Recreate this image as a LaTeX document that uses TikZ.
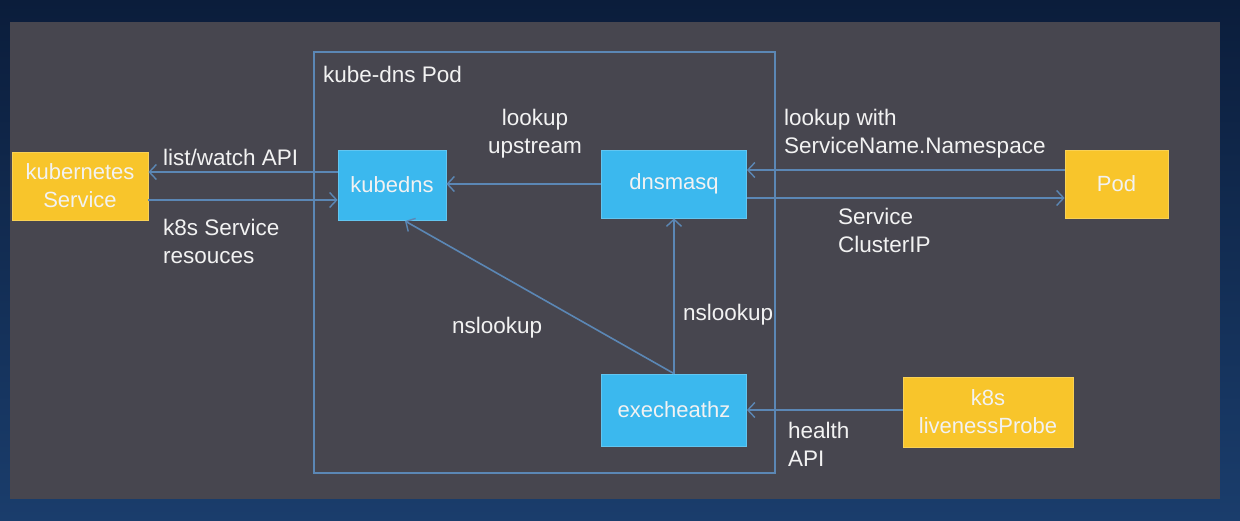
\documentclass[tikz,border=0pt]{standalone}
\usepackage{fontspec}
\setmainfont{Liberation Sans}
\usetikzlibrary{arrows.meta}
\definecolor{panel}{HTML}{47464F}
\definecolor{frameblue}{HTML}{5B87B5}
\definecolor{ybox}{HTML}{F8C52B}
\definecolor{bbox}{HTML}{3BB8EE}
\definecolor{txt}{HTML}{F2F2F2}
\definecolor{navytop}{HTML}{0B1D3B}
\definecolor{navybot}{HTML}{1A3D6C}
\tikzset{
  box/.style={draw=#1!80!white, line width=0.8pt, fill=#1, text=txt, align=center, inner sep=0pt, font=\fontsize{22}{28}\selectfont},
  lbl/.style={text=txt, align=left, inner sep=0pt, font=\fontsize{22.5}{28}\selectfont},
  conn/.style={draw=frameblue, line width=1.6pt, -{Straight Barb[length=7pt,width=15pt,line width=1.4pt]}},
}
\begin{document}
\begin{tikzpicture}[x=1pt,y=-1pt]
\useasboundingbox (0,0) rectangle (1240,520);
\shade[top color=navytop, bottom color=navybot] (0,0) rectangle (1240,520);
\fill[panel] (10,22) rectangle (1220,499);
% pod frame
\draw[frameblue, line width=1.2pt] (314,52) rectangle (775,473);
\node[lbl, anchor=west] (podlbl) at (323,74) {kube-dns Pod};
% boxes
\node[box=ybox, minimum width=136pt, minimum height=68pt] (ks) at (80,186) {kubernetes\\Service};
\node[box=bbox, minimum width=108pt, minimum height=70pt] (kubedns) at (392,185) {kubedns};
\node[box=bbox, minimum width=145pt, minimum height=68pt] (dnsmasq) at (674,184) {dnsmasq};
\node[box=ybox, minimum width=103pt, minimum height=68pt] (pod) at (1116.5,184) {Pod};
\node[box=bbox, minimum width=145pt, minimum height=72pt] (exec) at (674,410) {execheathz};
\node[box=ybox, minimum width=170pt, minimum height=70pt] (probe) at (988,412) {k8s\\livenessProbe};
% connectors
\draw[conn] (kubedns.west |- 0,172) -- (ks.east |- 0,172);
\draw[conn] (ks.east |- 0,200) -- (kubedns.west |- 0,200);
\draw[conn] (dnsmasq.west |- 0,184) -- (kubedns.east |- 0,184);
\draw[conn] (pod.west |- 0,170) -- (dnsmasq.east |- 0,170);
\draw[conn] (dnsmasq.east |- 0,198) -- (pod.west |- 0,198);
\draw[conn] (exec.north) -- (dnsmasq.south);
\draw[conn] (exec.north) -- (405,221);
\draw[conn] (probe.west |- 0,410) -- (exec.east |- 0,410);
% labels
\node[lbl, anchor=west] (l1) at (163,157) {list/watch API};
\node[lbl, anchor=north west] (l2) at (163,219) {k8s Service\\resouces};
\node[lbl, anchor=south, align=center] (l3) at (535,158) {lookup\\upstream};
\node[lbl, anchor=south west] (l4) at (784,158) {lookup with\\ServiceName.Namespace};
\node[lbl, anchor=north west] (l5) at (838,208) {Service\\ClusterIP};
\node[lbl, anchor=west] (l6) at (452,328) {nslookup};
\node[lbl, anchor=west] (l7) at (683,315) {nslookup};
\node[lbl, anchor=north west] (l8) at (788,422) {health\\API};
\end{tikzpicture}
\end{document}
